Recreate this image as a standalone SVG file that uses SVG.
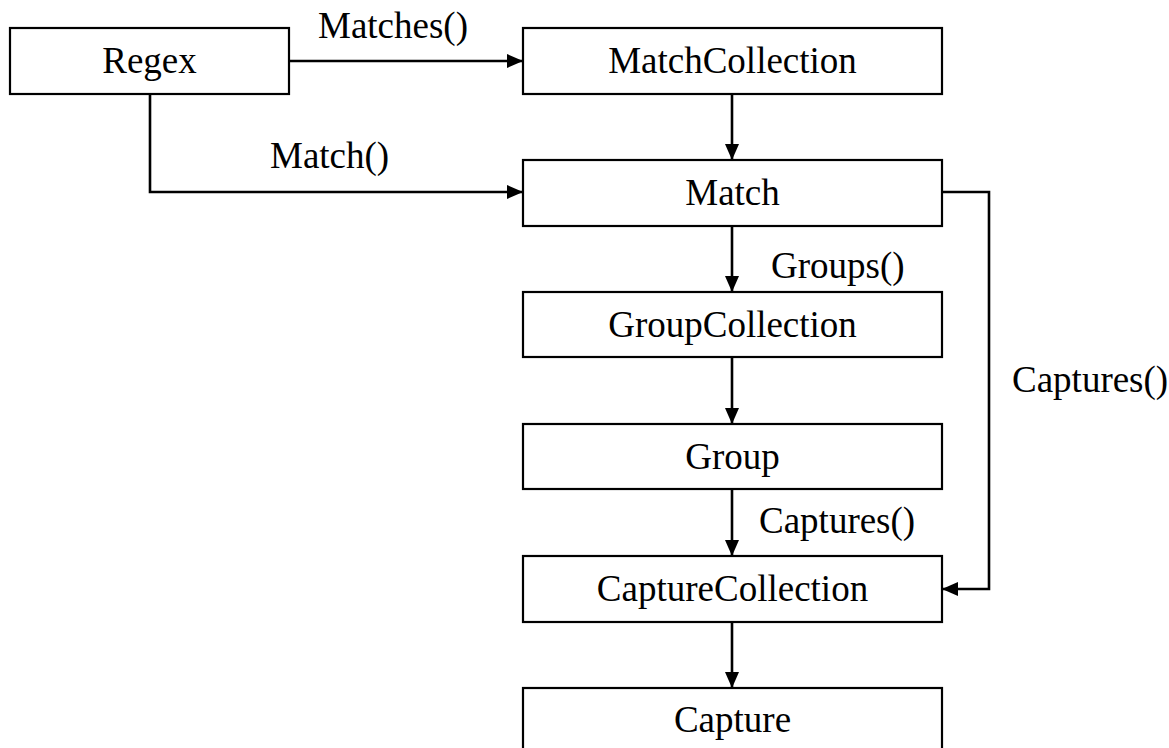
<svg xmlns="http://www.w3.org/2000/svg" width="1169" height="748" viewBox="0 0 1169 748">
<style>
.box{fill:#fff;stroke:#000;stroke-width:2.2}
.t{font-family:"Liberation Serif","Times New Roman",serif;font-size:37px;fill:#000}
.c{text-anchor:middle}
.ln{fill:none;stroke:#000;stroke-width:2.6;marker-end:url(#ah)}
</style>
<defs>
<marker id="ah" markerUnits="userSpaceOnUse" markerWidth="17" markerHeight="16" viewBox="0 0 17 16" refX="16" refY="8" orient="auto">
<path d="M0,1 L16,8 L0,15 Z" fill="#000"/>
</marker>
</defs>
<rect width="1169" height="748" fill="#fff"/>
<g id="connectors">
<path class="ln" d="M289,61 H523"/>
<path class="ln" d="M150,94 V192 H523"/>
<path class="ln" d="M732,94 V160"/>
<path class="ln" d="M732,226 V292"/>
<path class="ln" d="M732,357 V424"/>
<path class="ln" d="M732,489 V556"/>
<path class="ln" d="M732,622 V688"/>
<path class="ln" d="M942,192 H989 V589 H942"/>
<text class="t" x="318" y="38">Matches()</text>
<text class="t" x="270" y="168">Match()</text>
<text class="t" x="771" y="278">Groups()</text>
<text class="t" x="759" y="533">Captures()</text>
<text class="t" x="1012" y="392">Captures()</text>
</g>
<g id="regex"><rect class="box" x="10" y="28" width="279" height="66"/><text class="t c" x="149.5" y="73">Regex</text></g>
<g id="matchcollection"><rect class="box" x="523" y="28" width="419" height="66"/><text class="t c" x="732.5" y="73">MatchCollection</text></g>
<g id="match"><rect class="box" x="523" y="160" width="419" height="66"/><text class="t c" x="732.5" y="205">Match</text></g>
<g id="groupcollection"><rect class="box" x="523" y="292" width="419" height="65"/><text class="t c" x="732.5" y="337">GroupCollection</text></g>
<g id="group"><rect class="box" x="523" y="424" width="419" height="65"/><text class="t c" x="732.5" y="469">Group</text></g>
<g id="capturecollection"><rect class="box" x="523" y="556" width="419" height="66"/><text class="t c" x="732.5" y="601">CaptureCollection</text></g>
<g id="capture"><rect class="box" x="523" y="688" width="419" height="66"/><text class="t c" x="732.5" y="732">Capture</text></g>
</svg>
